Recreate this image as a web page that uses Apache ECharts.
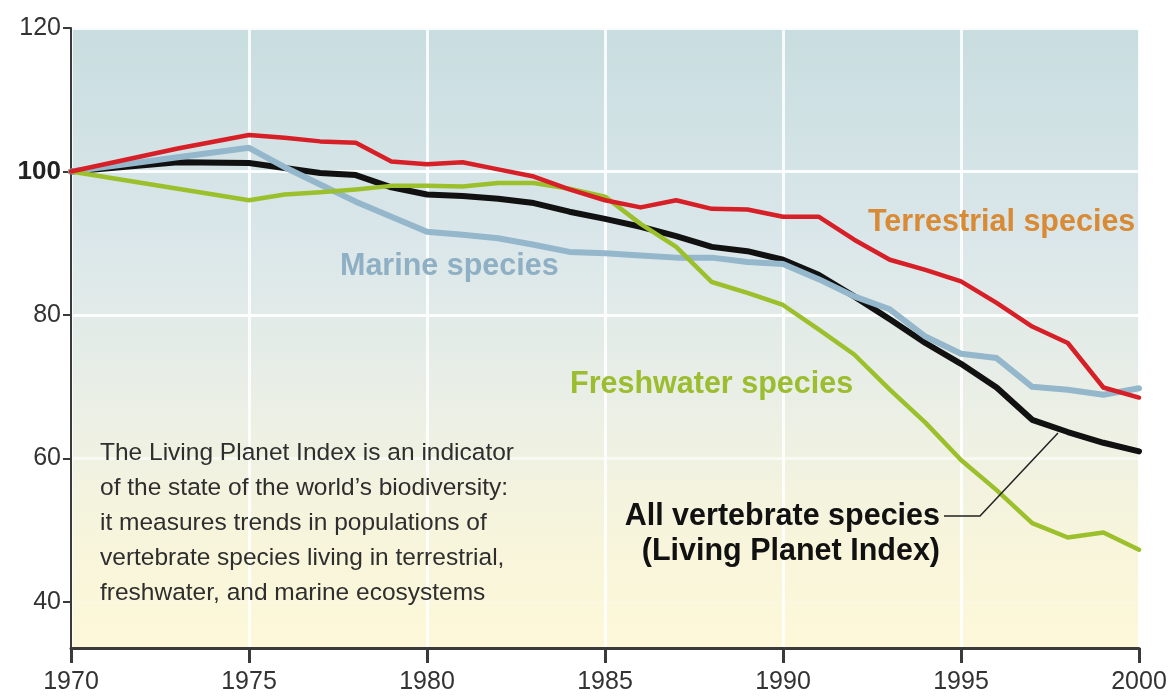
<!DOCTYPE html>
<html>
<head>
<meta charset="utf-8">
<script src="https://cdn.jsdelivr.net/npm/echarts@6/dist/echarts.min.js"></script>
<style>
html, body { margin: 0; padding: 0; background: #fff; }
#chart { width: 1176px; height: 699px; }
</style>
</head>
<body>
<div id="chart"></div>
<script>
// years 1970 - 2000, null = straight run in the picture (joined with connectNulls)
const years = [1970, 1971, 1972, 1973, 1974, 1975, 1976, 1977, 1978, 1979,
  1980, 1981, 1982, 1983, 1984, 1985, 1986, 1987, 1988, 1989,
  1990, 1991, 1992, 1993, 1994, 1995, 1996, 1997, 1998, 1999, 2000]

const terrestrial = [100, null, null, 103.2, null, 105.1, 104.7, 104.2, 104, 101.4,
  101, 101.3, 100.3, 99.3, 97.5, 96, 95, 96, 94.8, 94.7,
  93.7, 93.7, 90.5, 87.7, 86.3, 84.7, 81.7, 78.4, 76.1, 69.9, 68.5]

const marine = [100, null, null, null, null, 103.3, 100.6, 98.2, 95.8, 93.7,
  91.6, 91.2, 90.7, 89.8, 88.8, 88.6, 88.3, 88, 88, 87.4,
  87.1, 85, 82.6, 80.8, 77, 74.6, 74, 70, 69.6, 68.9, 69.8]

const allSpecies = [100, null, null, 101.3, null, 101.2, 100.5, 99.8, 99.5, 97.8,
  96.8, 96.6, 96.2, 95.6, 94.4, 93.4, 92.3, 91, 89.5, 88.9,
  87.7, 85.6, 82.6, 79.4, 76.1, 73.2, 69.9, 65.4, 63.7, 62.2, 61]

const freshwater = [100, null, null, null, null, 96, 96.8, 97.1, 97.5, 98,
  98, 97.9, 98.4, 98.4, 97.6, 96.5, 92.7, 89.5, 84.6, 83.1,
  81.4, 78, 74.5, 69.6, 65, 59.8, 55.6, 51, 49, 49.7, 47.3]

const yTicks = [40, 60, 80, 100, 120]

const note = [
  'The Living Planet Index is an indicator',
  'of the state of the world\u2019s biodiversity:',
  'it measures trends in populations of',
  'vertebrate species living in terrestrial,',
  'freshwater, and marine ecosystems'
]

const font = '"Liberation Sans", Arial, sans-serif'

function pairs (vals) {
  return years.map((y, i) => [y, vals[i]])
}

function lineSeries (name, vals, color, width, z) {
  return {
    name: name,
    type: 'line',
    data: pairs(vals),
    connectNulls: true,
    showSymbol: false,
    symbol: 'none',
    smooth: false,
    z: z,
    lineStyle: { color: color, width: width, join: 'round', cap: 'round' },
    emphasis: { disabled: true }
  }
}

const myChart = echarts.init(document.getElementById('chart'))
myChart.setOption({
  animation: false,
  backgroundColor: '#ffffff',
  grid: {
    left: 71,
    right: 37,
    top: 28,
    bottom: 51,
    show: true,
    borderWidth: 0,
    backgroundColor: new echarts.graphic.LinearGradient(0, 0, 0, 1, [
      { offset: 0, color: '#c8dddf' },
      { offset: 0.35, color: '#dbe7ea' },
      { offset: 0.6, color: '#eaefe6' },
      { offset: 0.8, color: '#f6f4dc' },
      { offset: 1, color: '#fdf8d8' }
    ])
  },
  xAxis: {
    type: 'value',
    min: 1970,
    max: 2000,
    interval: 5,
    axisLine: { show: true, lineStyle: { color: '#3a3a3a', width: 3 } },
    axisTick: { show: true, length: 15, lineStyle: { color: '#3a3a3a', width: 3 } },
    axisLabel: {
      color: '#333',
      fontFamily: font,
      fontSize: 25,
      margin: 22,
      formatter: v => String(v)
    },
    splitLine: { show: true, lineStyle: { color: 'rgba(255,255,255,0.85)', width: 3 } }
  },
  yAxis: {
    type: 'value',
    min: 33.6,
    max: 120,
    axisLine: { show: true, lineStyle: { color: '#3a3a3a', width: 2 } },
    axisTick: {
      show: true,
      length: 8,
      customValues: yTicks,
      lineStyle: { color: '#3a3a3a', width: 2 }
    },
    axisLabel: {
      customValues: yTicks,
      color: '#333',
      fontFamily: font,
      fontSize: 25,
      margin: 10,
      formatter: v => (v === 100 ? '{b|100}' : String(v)),
      rich: {
        b: { fontWeight: 'bold', fontSize: 26, color: '#222', fontFamily: font }
      }
    },
    splitLine: {
      show: true,
      lineStyle: {
        // 40 line is barely visible in the original
        color: ['rgba(255,255,255,0.15)', 'rgba(255,255,255,0.6)', 'rgba(255,255,255,0.9)', 'rgba(255,255,255,0.9)', 'rgba(255,255,255,0.9)'],
        width: 3
      }
    }
  },
  series: [
    lineSeries('All vertebrate species', allSpecies, '#111111', 6, 2),
    lineSeries('Marine species', marine, '#94b7cb', 6, 3),
    lineSeries('Freshwater species', freshwater, '#9cc02c', 4.5, 4),
    lineSeries('Terrestrial species', terrestrial, '#d61f26', 4.5, 5)
  ],
  graphic: [
    {
      type: 'text', left: 868, top: 207, z: 100, silent: true,
      style: { text: 'Terrestrial species', fill: '#d98a35', font: 'bold 30.5px ' + font }
    },
    {
      type: 'text', left: 340, top: 251, z: 100, silent: true,
      style: { text: 'Marine species', fill: '#8fb0c4', font: 'bold 30.5px ' + font }
    },
    {
      type: 'text', left: 570, top: 369, z: 100, silent: true,
      style: { text: 'Freshwater species', fill: '#9bbd2f', font: 'bold 30.5px ' + font }
    },
    {
      type: 'text', x: 940, y: 499, z: 100, silent: true,
      style: {
        text: 'All vertebrate species\n(Living Planet Index)',
        fill: '#111',
        font: 'bold 30.5px ' + font,
        align: 'right',
        verticalAlign: 'top',
        lineHeight: 35
      }
    },
    {
      type: 'polyline', silent: true, z: 100,
      shape: { points: [[944, 516], [980, 516], [1058, 433]] },
      style: { stroke: '#222', lineWidth: 1.5, fill: null }
    },
    {
      type: 'text', left: 100, top: 436, z: 100, silent: true,
      style: {
        text: note.join('\n'),
        fill: '#2e2e2e',
        font: '24.5px ' + font,
        lineHeight: 35
      }
    }
  ]
})
</script>
</body>
</html>
